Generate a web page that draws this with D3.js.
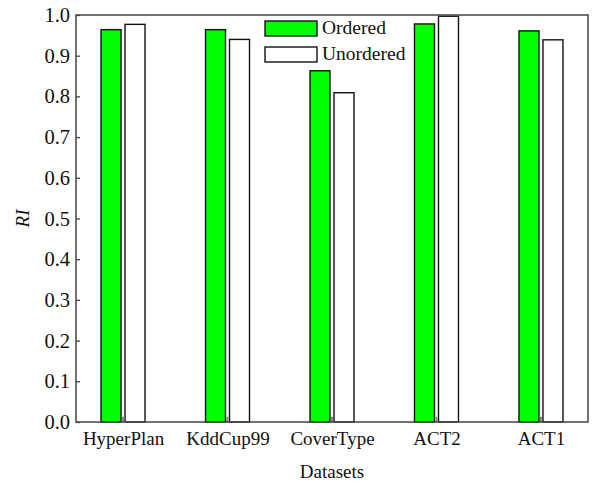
<!DOCTYPE html>
<html>
<head>
<meta charset="utf-8">
<script src="https://cdn.jsdelivr.net/npm/d3@7"></script>
<style>
  html, body { margin: 0; padding: 0; background: #fff; }
  svg { display: block; }
  text { font-family: "Liberation Serif", "Times New Roman", serif; fill: #111; }
</style>
</head>
<body>
<svg id="chart" width="592" height="484"></svg>
<script>
// Rand index per dataset, ordered vs unordered processing
const datasets = ["HyperPlan", "KddCup99", "CoverType", "ACT2", "ACT1"];
const ordered = [0.964, 0.964, 0.863, 0.978, 0.961];
const unordered = [0.977, 0.940, 0.809, 0.997, 0.939];
const baseline = [0.013, 0.013, 0.013, 0.013, 0.013];
const yTicks = [0.0, 0.1, 0.2, 0.3, 0.4, 0.5, 0.6, 0.7, 0.8, 0.9, 1.0];
const seriesNames = ["Ordered", "Unordered"];

const svg = d3.select("#chart");
const plotL = 76, plotR = 588, plotT = 15, plotB = 422;

const x = d3.scalePoint().domain(datasets).range([plotL, plotR]).padding(0.45);
const y = d3.scaleLinear().domain([0, 1]).range([plotB, plotT]);

const barW = 20, gap = 2;

// bars
const g = svg.append("g");
datasets.forEach((d, i) => {
  const c = x(d);
  g.append("rect")
    .attr("x", c - gap - barW).attr("y", y(ordered[i]))
    .attr("width", barW).attr("height", y(0) - y(ordered[i]))
    .attr("fill", "#00ff00").attr("stroke", "#111").attr("stroke-width", 1.4);
  g.append("rect")
    .attr("x", c + gap).attr("y", y(unordered[i]))
    .attr("width", barW).attr("height", y(0) - y(unordered[i]))
    .attr("fill", "#fff").attr("stroke", "#111").attr("stroke-width", 1.4);
  g.append("rect")
    .attr("x", c - 1).attr("y", y(baseline[i]))
    .attr("width", 2).attr("height", y(0) - y(baseline[i]))
    .attr("fill", "#888");
});

// frame
svg.append("rect")
  .attr("x", plotL).attr("y", plotT)
  .attr("width", plotR - plotL).attr("height", plotB - plotT)
  .attr("fill", "none").attr("stroke", "#444").attr("stroke-width", 1.5);

// y axis with inward ticks
const yAxis = d3.axisLeft(y).tickValues(yTicks).tickFormat(d3.format(".1f"))
  .tickSizeInner(-4).tickSizeOuter(0).tickPadding(6);
const ya = svg.append("g").attr("transform", `translate(${plotL},0)`).call(yAxis);
ya.select(".domain").remove();
ya.selectAll(".tick line").attr("stroke", "#444").attr("stroke-width", 1.3);
ya.selectAll(".tick text")
  .attr("x", -6)
  .style("font-family", "'Liberation Serif', serif").style("font-size", "20.5px").attr("fill", "#111");

// x axis labels
const xAxis = d3.axisBottom(x).tickSize(0).tickPadding(10);
const xa = svg.append("g").attr("transform", `translate(0,${plotB})`).call(xAxis);
xa.select(".domain").remove();
xa.selectAll(".tick text")
  .style("font-family", "'Liberation Serif', serif").style("font-size", "19px").attr("fill", "#111");

// axis titles
svg.append("text")
  .attr("x", (plotL + plotR) / 2).attr("y", 478)
  .attr("text-anchor", "middle").style("font-size", "19px")
  .text("Datasets");
svg.append("text")
  .attr("transform", `translate(29,${(plotT + plotB) / 2}) rotate(-90)`)
  .attr("text-anchor", "middle").style("font-size", "19px").style("font-style", "italic")
  .text("RI");

// legend
const legend = svg.append("g");
const fills = ["#00ff00", "#fff"];
seriesNames.forEach((s, i) => {
  const ly = 21 + i * 26;
  legend.append("rect")
    .attr("x", 265).attr("y", ly).attr("width", 52).attr("height", 15)
    .attr("fill", fills[i]).attr("stroke", "#111").attr("stroke-width", 1.4);
  legend.append("text")
    .attr("x", 322).attr("y", ly + 13)
    .style("font-size", "19.5px").text(s);
});
</script>
</body>
</html>
